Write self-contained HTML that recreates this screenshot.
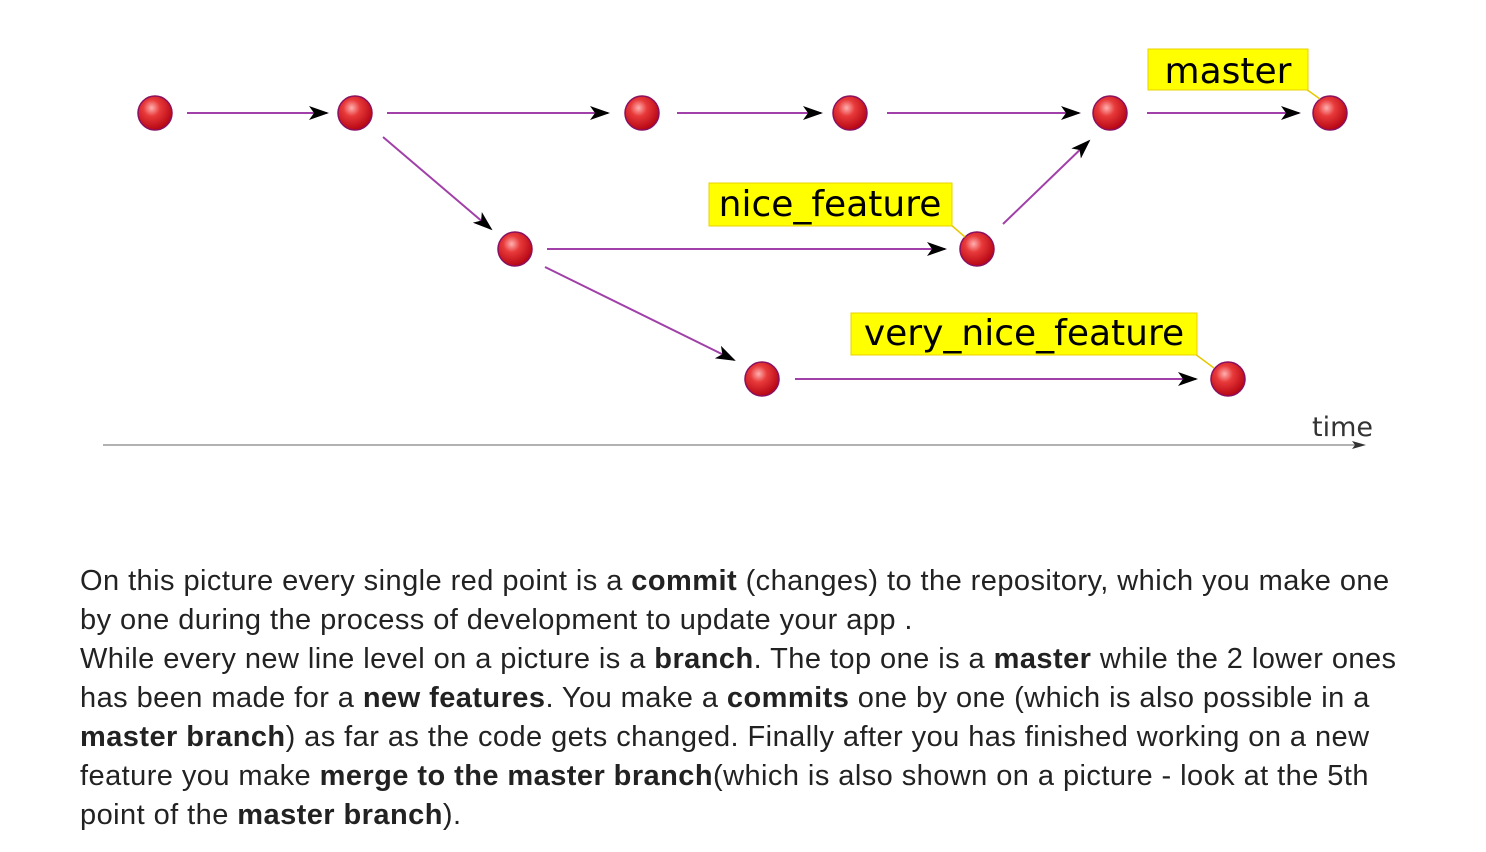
<!DOCTYPE html>
<html><head><meta charset="utf-8"><style>
html,body{margin:0;padding:0;background:#fff;width:1486px;height:852px;overflow:hidden}
.t{position:absolute;left:80px;top:562px;font-family:"Liberation Sans",Arial,sans-serif;font-size:29px;letter-spacing:0.44px;line-height:39px;color:#222;white-space:nowrap}
.t b{font-weight:bold}
</style></head><body>
<svg width="1486" height="852" style="position:absolute;left:0;top:0">
<defs>
<radialGradient id="g" cx="0.4" cy="0.35" r="0.7">
<stop offset="0" stop-color="#ffb0b0"/><stop offset="0.35" stop-color="#e83a3a"/><stop offset="1" stop-color="#b00010"/>
</radialGradient>
<marker id="a" viewBox="0 0 20 14" refX="18" refY="7" markerWidth="20" markerHeight="14" markerUnits="userSpaceOnUse" orient="auto">
<path d="M0,0 L20,7 L0,14 L5,7 Z" fill="#000"/>
</marker>
</defs>
<g stroke="#a040a8" stroke-width="2" fill="none" marker-end="url(#a)">
<line x1="187" y1="113" x2="327" y2="113"/>
<line x1="387" y1="113" x2="608" y2="113"/>
<line x1="677" y1="113" x2="821" y2="113"/>
<line x1="887" y1="113" x2="1079" y2="113"/>
<line x1="1147" y1="113" x2="1299" y2="113"/>
<line x1="383" y1="137" x2="491" y2="229"/>
<line x1="547" y1="249" x2="945" y2="249"/>
<line x1="1003" y1="224" x2="1089" y2="141"/>
<line x1="545" y1="267" x2="734" y2="360"/>
<line x1="795" y1="379" x2="1196" y2="379"/>
</g>
<g fill="url(#g)" stroke="#8a1060" stroke-width="1.5">
<ellipse cx="155" cy="113" rx="17" ry="17"/>
<ellipse cx="355" cy="113" rx="17" ry="17"/>
<ellipse cx="642" cy="113" rx="17" ry="17"/>
<ellipse cx="850" cy="113" rx="17" ry="17"/>
<ellipse cx="1110" cy="113" rx="17" ry="17"/>
<ellipse cx="1330" cy="113" rx="17" ry="17"/>
<ellipse cx="515" cy="249" rx="17" ry="17"/>
<ellipse cx="977" cy="249" rx="17" ry="17"/>
<ellipse cx="762" cy="379" rx="17" ry="17"/>
<ellipse cx="1228" cy="379" rx="17" ry="17"/>
</g>
<g stroke="#e8c800" stroke-width="1.5">
<line x1="1306" y1="89" x2="1320" y2="99"/>
<line x1="950" y1="224" x2="965" y2="237"/>
<line x1="1195" y1="354" x2="1214" y2="368"/>
</g>
<g fill="#ffff00" stroke="#e8d000" stroke-width="1">
<rect x="1148" y="49" width="160" height="41"/>
<rect x="709" y="183" width="243" height="43"/>
<rect x="851" y="313" width="346" height="42"/>
</g>
<g font-family="DejaVu Sans,sans-serif" font-size="36" fill="#000" text-anchor="middle">
<text x="1228" y="83">master</text>
<text x="830" y="216">nice_feature</text>
<text x="1024" y="345">very_nice_feature</text>
</g>
<line x1="103" y1="445" x2="1358" y2="445" stroke="#999" stroke-width="1.5"/>
<path d="M1352,441 L1366,445 L1352,449 L1355,445 Z" fill="#333"/>
<text x="1312" y="436" font-family="DejaVu Sans,sans-serif" font-size="27" fill="#333">time</text>
</svg>
<div class="t">On this picture every single red point is a <b>commit</b> (changes) to the repository, which you make one<br>by one during the process of development to update your app .<br>While every new line level on a picture is a <b>branch</b>. The top one is a <b>master</b> while the 2 lower ones<br>has been made for a <b>new features</b>. You make a <b>commits</b> one by one (which is also possible in a<br><b>master branch</b>) as far as the code gets changed. Finally after you has finished working on a new<br>feature you make <b>merge to the master branch</b>(which is also shown on a picture - look at the 5th<br>point of the <b>master branch</b>).</div>
</body></html>
